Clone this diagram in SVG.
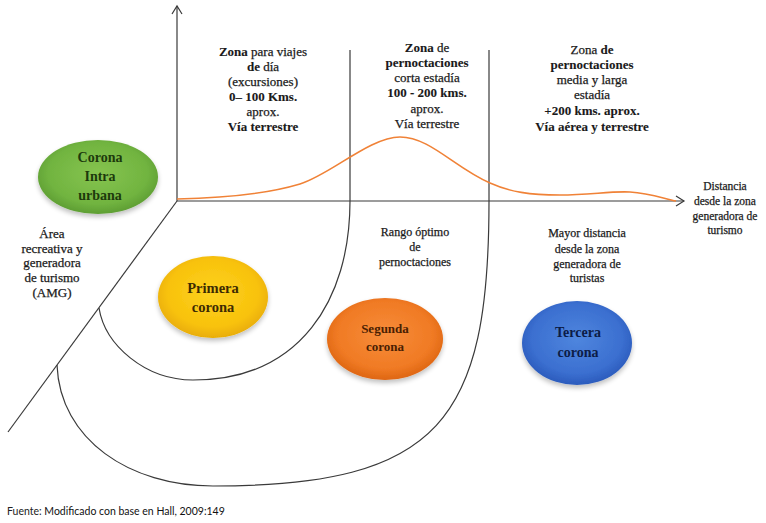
<svg xmlns="http://www.w3.org/2000/svg" width="766" height="523" viewBox="0 0 766 523">
  <style>
    .ln { fill: none; stroke: #3a3a3a; stroke-width: 1.2; }
    .cur { fill: none; stroke: #f08237; stroke-width: 1.6; }
    .t { font-family: "Liberation Serif", "Times New Roman", serif; font-size: 13px; fill: #1a1a1a; stroke: #1a1a1a; stroke-width: 0.25; text-anchor: middle; }
    .b { font-weight: bold; stroke-width: 0.1; }
    .s { font-size: 12px; }
    .xs { font-size: 11.5px; }
    .et { font-family: "Liberation Serif", "Times New Roman", serif; font-weight: bold; text-anchor: middle; }
    .src { font-family: Lato, "Liberation Sans", sans-serif; font-size: 10.5px; fill: #222; }
  </style>
  <defs>
    <radialGradient id="gGreen" cx="50%" cy="45%" r="55%">
      <stop offset="0" stop-color="#86c44f"/>
      <stop offset="0.75" stop-color="#71b440"/>
      <stop offset="1" stop-color="#5e9e33"/>
    </radialGradient>
    <radialGradient id="gYellow" cx="50%" cy="45%" r="55%">
      <stop offset="0" stop-color="#fdd21e"/>
      <stop offset="0.75" stop-color="#f8c20c"/>
      <stop offset="1" stop-color="#e9ad06"/>
    </radialGradient>
    <radialGradient id="gOrange" cx="50%" cy="45%" r="55%">
      <stop offset="0" stop-color="#f78d3a"/>
      <stop offset="0.75" stop-color="#f07a24"/>
      <stop offset="1" stop-color="#de6612"/>
    </radialGradient>
    <radialGradient id="gBlue" cx="50%" cy="45%" r="55%">
      <stop offset="0" stop-color="#4f86de"/>
      <stop offset="0.75" stop-color="#3b6fd0"/>
      <stop offset="1" stop-color="#2b5bbc"/>
    </radialGradient>
    <filter id="sh" x="-20%" y="-20%" width="140%" height="150%">
      <feGaussianBlur in="SourceAlpha" stdDeviation="2.5"/>
      <feOffset dx="0" dy="3" result="b"/>
      <feComponentTransfer><feFuncA type="linear" slope="0.25"/></feComponentTransfer>
      <feMerge><feMergeNode/><feMergeNode in="SourceGraphic"/></feMerge>
    </filter>
  </defs>
  <rect width="766" height="523" fill="#ffffff"/>

  <g id="connectors">
    <line class="ln" x1="177" y1="201" x2="177" y2="6"/>
    <polyline class="ln" points="172,14 177,6 182,14"/>
    <line class="ln" x1="177" y1="201" x2="684" y2="201"/>
    <polyline class="ln" points="676,196 684,201 676,206"/>
    <line class="ln" x1="177" y1="201" x2="8" y2="432"/>
    <path class="ln" d="M350,50 L350,201 C350,300 300,380 193,380 C145,380 105,345 99,308"/>
    <path class="ln" d="M489,50 L489,201 C489,420 440,486 213,486 C130,486 60,440 57,365"/>
    <path class="cur" d="M177,199 C230,198 270,193 300,184 C330,175 370,137 400,137 C430,137 455,168 490,183 C510,192 530,195 560,195 C590,195 610,191 630,192 C650,193 665,199 676,201"/>
  </g>

  <g id="zona-dia">
    <text class="t" x="263" y="56"><tspan class="b">Zona</tspan> para viajes</text>
    <text class="t" x="263" y="71"><tspan class="b">de</tspan> día</text>
    <text class="t" x="263" y="86">(excursiones)</text>
    <text class="t b" x="263" y="101">0– 100 Kms.</text>
    <text class="t" x="263" y="116">aprox.</text>
    <text class="t b" x="263" y="131">Vía terrestre</text>
  </g>

  <g id="zona-corta">
    <text class="t" x="427" y="52"><tspan class="b">Zona</tspan> de</text>
    <text class="t b" x="427" y="67">pernoctaciones</text>
    <text class="t" x="427" y="82">corta estadía</text>
    <text class="t b" x="427" y="97">100 - 200 kms.</text>
    <text class="t" x="427" y="113">aprox.</text>
    <text class="t" x="427" y="128">Vía terrestre</text>
  </g>

  <g id="zona-larga">
    <text class="t" x="592" y="54">Zona <tspan class="b">de</tspan></text>
    <text class="t b" x="592" y="69">pernoctaciones</text>
    <text class="t" x="592" y="84">media y larga</text>
    <text class="t" x="592" y="99">estadía</text>
    <text class="t b" x="592" y="115">+200 kms. aprox.</text>
    <text class="t b" x="592" y="131">Vía aérea y terrestre</text>
  </g>

  <g id="corona-intra">
    <ellipse cx="98" cy="177" rx="60" ry="37" fill="url(#gGreen)" filter="url(#sh)"/>
    <text class="et" x="100" y="162" font-size="14" fill="#1d3a0c">Corona</text>
    <text class="et" x="100" y="181" font-size="14" fill="#1d3a0c">Intra</text>
    <text class="et" x="100" y="200" font-size="14" fill="#1d3a0c">urbana</text>
  </g>

  <g id="area-amg">
    <text class="t" x="52" y="238">Área</text>
    <text class="t" x="52" y="253">recreativa y</text>
    <text class="t" x="52" y="267">generadora</text>
    <text class="t" x="52" y="282">de turismo</text>
    <text class="t" x="52" y="297">(AMG)</text>
  </g>

  <g id="primera-corona">
    <ellipse cx="213" cy="297" rx="55" ry="41" fill="url(#gYellow)" filter="url(#sh)"/>
    <text class="et" x="213" y="293" font-size="14.5" fill="#3d2a02">Primera</text>
    <text class="et" x="213" y="312" font-size="14.5" fill="#3d2a02">corona</text>
  </g>

  <g id="rango-optimo">
    <text class="t s" x="415" y="236">Rango óptimo</text>
    <text class="t s" x="415" y="251">de</text>
    <text class="t s" x="415" y="266">pernoctaciones</text>
  </g>

  <g id="segunda-corona">
    <ellipse cx="385" cy="339" rx="58" ry="41" fill="url(#gOrange)" filter="url(#sh)"/>
    <text class="et" x="385" y="333" font-size="13" fill="#4a1e02">Segunda</text>
    <text class="et" x="385" y="351" font-size="13" fill="#4a1e02">corona</text>
  </g>

  <g id="mayor-distancia">
    <text class="t s" x="587" y="237">Mayor distancia</text>
    <text class="t s" x="587" y="253">desde la zona</text>
    <text class="t s" x="587" y="268">generadora de</text>
    <text class="t s" x="587" y="282">turistas</text>
  </g>

  <g id="tercera-corona">
    <ellipse cx="577" cy="343" rx="55" ry="42" fill="url(#gBlue)" filter="url(#sh)"/>
    <text class="et" x="578" y="337" font-size="14" fill="#0c1c46">Tercera</text>
    <text class="et" x="578" y="357" font-size="14" fill="#0c1c46">corona</text>
  </g>

  <g id="eje-distancia">
    <text class="t xs" x="725" y="190">Distancia</text>
    <text class="t xs" x="725" y="205">desde la zona</text>
    <text class="t xs" x="725" y="220">generadora de</text>
    <text class="t xs" x="725" y="234">turismo</text>
  </g>

  <g id="fuente">
    <text class="src" x="7" y="515">Fuente: <tspan fill="#111">Modificado con base en Hall, 2009:149</tspan></text>
  </g>
</svg>
